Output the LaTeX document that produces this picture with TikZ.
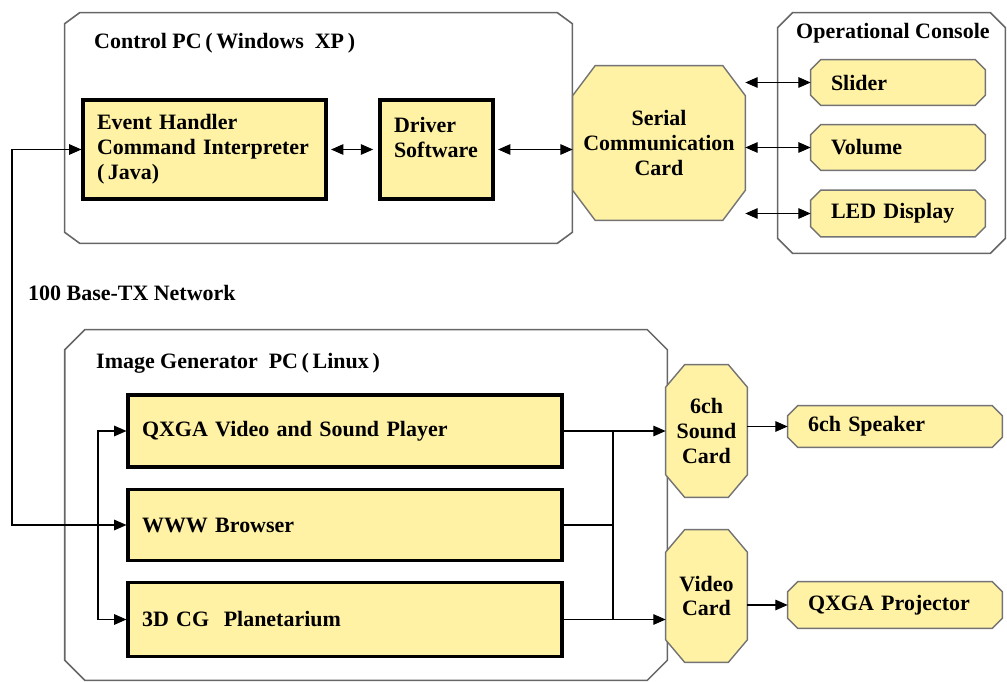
\documentclass[tikz,border=0pt]{standalone}
\usepackage{fontspec}
\setmainfont{Liberation Serif}
\usetikzlibrary{positioning,calc,arrows.meta,backgrounds}
\definecolor{cardyellow}{RGB}{255,242,165}
\newcommand{\chamferbox}[4][]{%
  \path[#1] ($(#2.north west)+(#3,0)$) -- ($(#2.north east)+(-#3,0)$) -- ($(#2.north east)+(0,-#4)$)
    -- ($(#2.south east)+(0,#4)$) -- ($(#2.south east)+(-#3,0)$) -- ($(#2.south west)+(#3,0)$)
    -- ($(#2.south west)+(0,#4)$) -- ($(#2.north west)+(0,-#4)$) -- cycle;}
\tikzset{
  every node/.style={font=\bfseries\fontsize{12.5}{14.2}\selectfont},
  group/.style={rectangle,inner sep=0pt},
  groupline/.style={draw=black!60,line width=0.9pt},
  block/.style={rectangle,draw=black,line width=1.8pt,fill=cardyellow,inner ysep=0pt,align=left},
  card/.style={rectangle,align=center,inner sep=0pt},
  device/.style={rectangle,inner ysep=0pt,inner xsep=0.4cm,align=left},
  cardline/.style={draw=black!55,line width=0.8pt,fill=cardyellow},
  link/.style={line width=0.6pt,-{Triangle[length=7pt,width=6pt]}},
  dlink/.style={line width=0.6pt,{Triangle[length=7pt,width=6pt]}-{Triangle[length=7pt,width=6pt]}},
  wire/.style={line width=0.6pt}
}
\begin{document}
\begin{tikzpicture}[x=0.02cm,y=-0.02cm]
    \useasboundingbox (0,0) rectangle (1007,682);
    % groups
    \node at (318.5,128) [group,minimum width=10.14cm,minimum height=4.6cm] (ctrl) {};
    \node at (891.5,133) [group,minimum width=4.54cm,minimum height=4.8cm] (console) {};
    \node at (366,505) [group,minimum width=12.04cm,minimum height=7cm] (imgpc) {};
    \node at (88,43) [anchor=west] (ctrllabel) {Control PC\,(\,Windows\ \ XP\,)};
    \node at (790,33) [anchor=west] (consolelabel) {Operational Console};
    \node at (90,363) [anchor=west] (imglabel) {Image Generator\ \ PC\,(\,Linux\,)};
    \node at (22,293) [anchor=west] (netlabel) {100 Base-TX Network};

    % control pc
    \node at (204.5,149.5) [block,minimum height=1.98cm,text width=4.3cm,inner xsep=0.28cm] (EH) {Event Handler\\Command Interpreter\\(\,Java)};
    \node at (436.5,149.5) [block,minimum height=1.98cm,text width=1.7cm,inner xsep=0.28cm] (drv) {Driver\\Software\\~};
    \node at (659,143) [card,minimum width=3.44cm,minimum height=3.08cm] (serial) {Serial\\Communication\\Card};

    % console
    \node at (898,82.5) [device,minimum height=0.9cm,text width=2.68cm] (slider) {Slider};
    \node at (898,147.5) [device,minimum height=0.9cm,text width=2.68cm] (volume) {Volume};
    \node at (898,213.5) [device,minimum height=0.92cm,text width=2.68cm] (led) {LED Display};

    % image generator pc
    \node at (345,431) [block,minimum height=1.44cm,text width=8.12cm,inner xsep=0.28cm] (qxga) {QXGA Video and Sound Player};
    \node at (345,525) [block,minimum height=1.42cm,text width=8.12cm,inner xsep=0.28cm] (www) {WWW Browser};
    \node at (345,619.5) [block,minimum height=1.48cm,text width=8.12cm,inner xsep=0.28cm] (cg) {3D CG\ \ Planetarium};
    \node at (706.5,431) [card,minimum width=1.62cm,minimum height=2.64cm] (sound) {6ch\\Sound\\Card};
    \node at (706.5,596) [card,minimum width=1.62cm,minimum height=2.64cm] (video) {Video\\Card};
    \node at (895,426.5) [device,minimum height=0.82cm,text width=3.48cm] (speaker) {6ch Speaker};
    \node at (895,605) [device,minimum height=0.92cm,text width=3.48cm] (proj) {QXGA Projector};

    \begin{scope}[on background layer]
      \chamferbox[groupline]{ctrl}{0.3cm}{0.22cm}
      \chamferbox[groupline]{console}{0.3cm}{0.3cm}
      \chamferbox[groupline]{imgpc}{0.4cm}{0.4cm}
      \chamferbox[cardline]{serial}{0.45cm}{0.6cm}
      \chamferbox[cardline]{sound}{0.38cm}{0.45cm}
      \chamferbox[cardline]{video}{0.38cm}{0.45cm}
      \foreach \dev in {slider,volume,led,speaker,proj}
        \chamferbox[cardline]{\dev}{0.2cm}{0.2cm};
    \end{scope}

    \coordinate (net) at (12,0);
    \coordinate (fork) at (98,0);
    \coordinate (merge) at (613,0);

    \draw[dlink,shorten <=2pt,shorten >=3pt] (EH.east) -- (drv.west);
    \draw[dlink,shorten <=2pt] (drv.east) -- (serial.west |- drv.east);
    \draw[dlink] (serial.east |- slider.west) -- (slider.west);
    \draw[dlink] (serial.east |- volume.west) -- (volume.west);
    \draw[dlink] (serial.east |- led.west) -- (led.west);

    \draw[dlink] (EH.west) -| (net |- www.west) -- (www.west);
    \draw[link] (fork |- www.west) |- (qxga.west);
    \draw[link] (fork |- www.west) |- (cg.west);

    \draw[link] (qxga.east) -- (sound.west);
    \draw[link] (cg.east) -- (video.west |- cg.east);
    \draw[wire] (www.east) -- (merge |- www.east);
    \draw[wire] (merge |- qxga.east) -- (merge |- cg.east);
    \draw[link] (sound.east |- speaker.west) -- (speaker.west);
    \draw[link] (video.east |- proj.west) -- (proj.west);
\end{tikzpicture}
\end{document}
